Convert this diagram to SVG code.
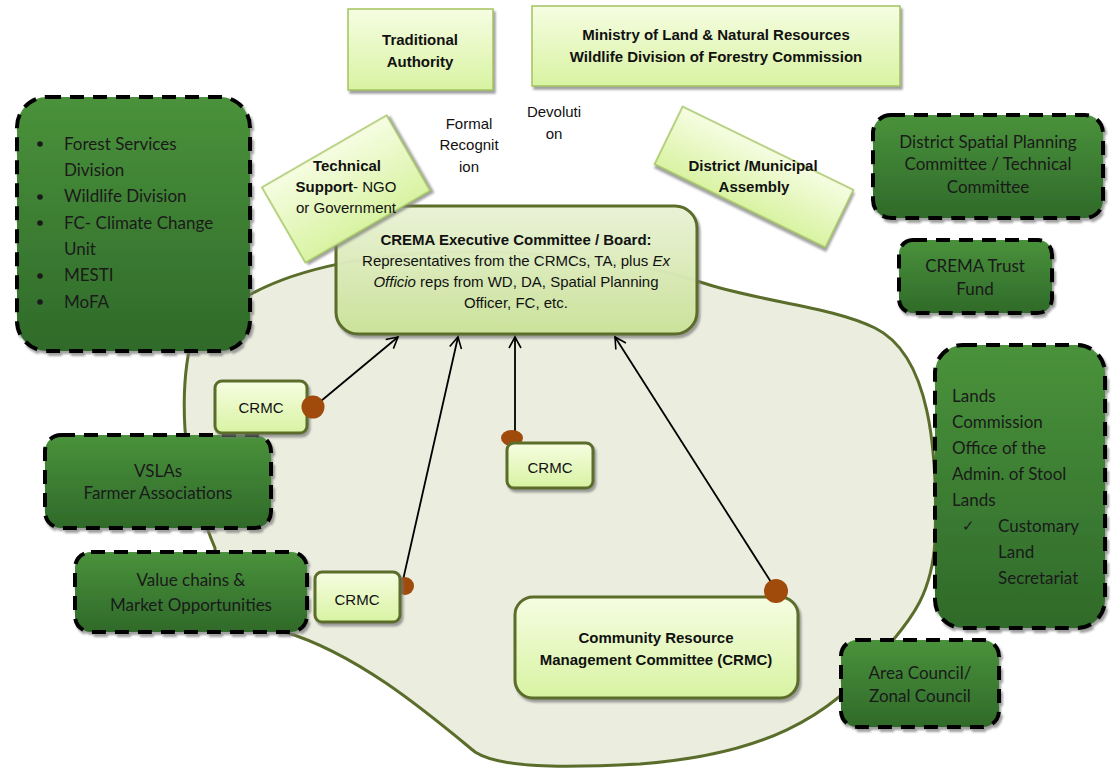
<svg xmlns="http://www.w3.org/2000/svg" width="1113" height="769" viewBox="0 0 1113 769">
<defs>
<linearGradient id="lg" x1="0" y1="0" x2="0" y2="1"><stop offset="0" stop-color="#f6fde2"/><stop offset="1" stop-color="#d8f3a2"/></linearGradient>
<linearGradient id="lgc" x1="0" y1="0" x2="0" y2="1"><stop offset="0" stop-color="#eef6da"/><stop offset="1" stop-color="#cde69a"/></linearGradient>
<linearGradient id="dg" x1="0" y1="0" x2="0" y2="1"><stop offset="0" stop-color="#4a923b"/><stop offset="1" stop-color="#2f6a2a"/></linearGradient>
<filter id="sh" x="-10%" y="-10%" width="130%" height="130%"><feDropShadow dx="2" dy="3" stdDeviation="1.2" flood-color="#777" flood-opacity="0.7"/></filter>
<marker id="ah" markerWidth="14" markerHeight="14" refX="12" refY="7" orient="auto" markerUnits="userSpaceOnUse"><path d="M1,1 L12,7 L1,13" fill="none" stroke="#000" stroke-width="1.6"/></marker>
<style>
.lt{fill:url(#lg);stroke:#a3c35f;stroke-width:1.5;filter:url(#sh)}
.cr{fill:url(#lg);stroke:#5b6d2b;stroke-width:3;filter:url(#sh)}
.dk{fill:url(#dg);stroke:#000;stroke-width:4;stroke-dasharray:14 9;filter:url(#sh)}
.a{font-family:"Liberation Sans",Arial,sans-serif;font-size:15px;fill:#111;text-anchor:middle}
.b{font-weight:bold}
.c{font-family:Lato,"Open Sans",sans-serif;font-size:17px;fill:#1a1a1a}
.m{text-anchor:middle}
.dot{fill:#a04a0c}
.cn{stroke:#000;stroke-width:1.8;fill:none;marker-end:url(#ah)}
</style>
</defs>
<rect width="1113" height="769" fill="#fff"/>
<g id="area">
<path d="M253,293 C300,268 370,254 450,252 C560,250 650,265 700,282 C760,302 830,306 875,328 C930,355 938,450 935,540 C932,600 905,625 885,650 C830,720 760,755 640,764 C560,768 500,768 475,752 C430,715 360,655 285,632 L215,600 L215,548 C205,525 190,480 185,430 C182,380 188,340 200,320 Z" fill="#ebeedf" stroke="#5b6d2b" stroke-width="3"/>
</g>
<g id="traditional-authority">
<rect class="lt" x="348" y="9" width="145" height="81"/>
<text class="a b" x="420" y="45" font-size="16">Traditional</text>
<text class="a b" x="420" y="67" font-size="16">Authority</text>
</g>
<g id="ministry">
<rect class="lt" x="532" y="6" width="368" height="80"/>
<text class="a b" x="716" y="40" font-size="16">Ministry of Land &amp; Natural Resources</text>
<text class="a b" x="716" y="62" font-size="16">Wildlife Division of Forestry Commission</text>
</g>
<g id="district-assembly">
<rect class="lt" x="-95" y="-32" width="190" height="64" transform="translate(754,177) rotate(26)"/>
<text class="a b" x="753" y="171">District /Municipal</text>
<text class="a b" x="754" y="192">Assembly</text>
</g>
<g id="formal-recognition">
<text class="a" x="469" y="129">Formal</text>
<text class="a" x="469" y="150">Recognit</text>
<text class="a" x="469" y="172">ion</text>
</g>
<g id="devolution">
<text class="a" x="554" y="117">Devoluti</text>
<text class="a" x="554" y="139">on</text>
</g>
<g id="crema-executive">
<rect x="336" y="206" width="361" height="128" rx="22" fill="url(#lgc)" fill-opacity="0.92" stroke="#5b6d2b" stroke-width="3" filter="url(#sh)"/>
<text class="a b" x="516" y="245">CREMA Executive Committee / Board:</text>
<text class="a" x="516" y="266">Representatives from the CRMCs, TA, plus <tspan font-style="italic">Ex</tspan></text>
<text class="a" x="516" y="287"><tspan font-style="italic">Officio</tspan> reps from WD, DA, Spatial Planning</text>
<text class="a" x="516" y="308">Officer, FC, etc.</text>
</g>
<g id="technical-support">
<rect class="lt" x="-72" y="-43.5" width="144" height="87" transform="translate(346,189) rotate(-30)"/>
<text class="a b" x="347" y="171">Technical</text>
<text class="a" x="346" y="192"><tspan font-weight="bold">Support</tspan>- NGO</text>
<text class="a" x="346" y="213">or Government</text>
</g>
<g id="forest-services">
<rect class="dk" x="17" y="97" width="233" height="254" rx="30"/>
<g class="c">
<circle cx="40" cy="144" r="2.8" fill="#1a1a1a"/>
<circle cx="40" cy="197" r="2.8" fill="#1a1a1a"/>
<circle cx="40" cy="223" r="2.8" fill="#1a1a1a"/>
<circle cx="40" cy="276" r="2.8" fill="#1a1a1a"/>
<circle cx="40" cy="302" r="2.8" fill="#1a1a1a"/>
<text x="64" y="150">Forest Services</text>
<text x="64" y="176">Division</text>
<text x="64" y="202">Wildlife Division</text>
<text x="64" y="229">FC- Climate Change</text>
<text x="64" y="255">Unit</text>
<text x="64" y="281">MESTI</text>
<text x="64" y="308">MoFA</text>
</g>
</g>
<g id="district-spatial">
<rect class="dk" x="873" y="115" width="230" height="103" rx="18"/>
<text class="c m" x="988" y="148">District Spatial Planning</text>
<text class="c m" x="988" y="170">Committee / Technical</text>
<text class="c m" x="988" y="193">Committee</text>
</g>
<g id="crema-trust">
<rect class="dk" x="899" y="240" width="153" height="73" rx="14"/>
<text class="c m" x="975" y="272">CREMA Trust</text>
<text class="c m" x="975" y="295">Fund</text>
</g>
<g id="lands-commission">
<rect class="dk" x="935" y="345" width="170" height="283" rx="28"/>
<g class="c">
<text x="952" y="402">Lands</text>
<text x="952" y="428">Commission</text>
<text x="952" y="454">Office of the</text>
<text x="952" y="480">Admin. of Stool</text>
<text x="952" y="506">Lands</text>
<text x="962" y="531" font-size="15">✓</text>
<text x="998" y="532">Customary</text>
<text x="998" y="558">Land</text>
<text x="998" y="584">Secretariat</text>
</g>
</g>
<g id="vslas">
<rect class="dk" x="45" y="435" width="226" height="93" rx="16"/>
<text class="c m" x="158" y="477">VSLAs</text>
<text class="c m" x="158" y="499">Farmer Associations</text>
</g>
<g id="value-chains">
<rect class="dk" x="75" y="552" width="232" height="80" rx="16"/>
<text class="c m" x="191" y="586" font-size="20.5">Value chains &amp;</text>
<text class="c m" x="191" y="611" font-size="20.5">Market Opportunities</text>
</g>
<g id="area-council">
<rect class="dk" x="841" y="640" width="158" height="87" rx="16"/>
<text class="c m" x="920" y="679">Area Council/</text>
<text class="c m" x="920" y="702">Zonal Council</text>
</g>
<g id="connectors">
<line class="cn" x1="321" y1="401" x2="398" y2="337"/>
<line class="cn" x1="403" y1="580" x2="458" y2="337"/>
<line class="cn" x1="515" y1="432" x2="515" y2="337"/>
<line class="cn" x1="771" y1="582" x2="615" y2="337"/>
</g>
<g id="crmc-1">
<rect class="cr" x="215" y="381" width="92" height="52" rx="7"/>
<text class="a" x="261" y="413">CRMC</text>
<circle class="dot" cx="313" cy="407" r="11.5"/>
</g>
<g id="crmc-2">
<ellipse class="dot" cx="512" cy="438" rx="11" ry="8"/>
<rect class="cr" x="507" y="443" width="86" height="45" rx="7"/>
<text class="a" x="550" y="473">CRMC</text>
</g>
<g id="crmc-3">
<circle class="dot" cx="405" cy="586" r="9"/>
<rect class="cr" x="315" y="572" width="85" height="50" rx="7"/>
<text class="a" x="357" y="605">CRMC</text>
</g>
<g id="crmc-main">
<rect class="cr" x="515" y="597" width="283" height="101" rx="18"/>
<text class="a b" x="656" y="643" font-size="16">Community Resource</text>
<text class="a b" x="656" y="665" font-size="16">Management Committee (CRMC)</text>
<circle class="dot" cx="776" cy="591" r="12"/>
</g>
</svg>
